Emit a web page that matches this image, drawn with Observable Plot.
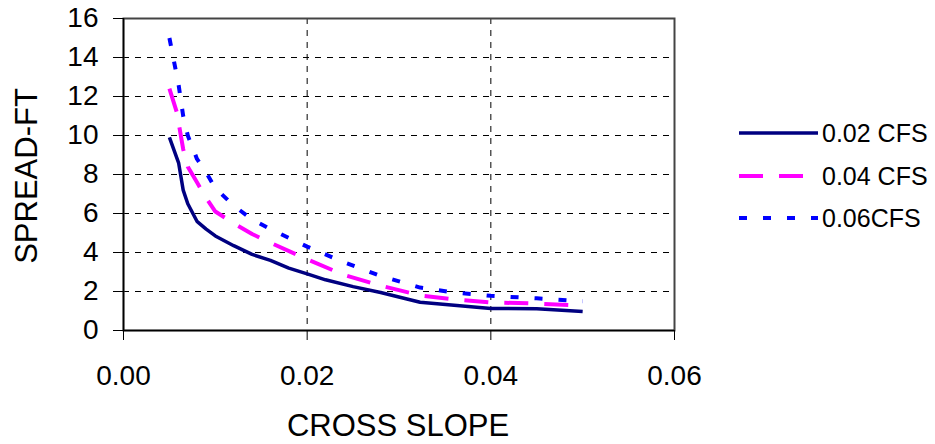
<!DOCTYPE html>
<html>
<head>
<meta charset="utf-8">
<script src="https://cdn.jsdelivr.net/npm/d3@7"></script>
<script src="https://cdn.jsdelivr.net/npm/@observablehq/plot@0.6"></script>
<style>
  html, body { margin: 0; padding: 0; background: #fff; }
  svg { display: block; }
</style>
</head>
<body>
<div id="chart"></div>
<script>
// ---- data ----
const seriesNames = ["0.02 CFS", "0.04 CFS", "0.06CFS"];

const slope002 = [0.005, 0.006, 0.0065, 0.007, 0.008, 0.009, 0.010, 0.012, 0.014, 0.016, 0.018, 0.020, 0.022, 0.025, 0.028, 0.0323, 0.036, 0.040, 0.045, 0.050];
const spread002 = [9.9, 8.6, 7.2, 6.5, 5.6, 5.2, 4.85, 4.35, 3.9, 3.6, 3.2, 2.9, 2.6, 2.25, 1.95, 1.45, 1.3, 1.13, 1.12, 0.97];

const slope004 = [0.005, 0.0058, 0.0065, 0.007, 0.008, 0.009, 0.010, 0.012, 0.014, 0.016, 0.020, 0.024, 0.028, 0.0323, 0.036, 0.040, 0.045, 0.050];
const spread004 = [12.4, 11.2, 9.3, 8.4, 7.6, 6.8, 6.1, 5.5, 4.95, 4.5, 3.65, 2.85, 2.3, 1.8, 1.6, 1.44, 1.38, 1.28];

const slope006 = [0.005, 0.0055, 0.006, 0.0065, 0.007, 0.008, 0.009, 0.010, 0.012, 0.014, 0.016, 0.020, 0.024, 0.028, 0.0323, 0.036, 0.040, 0.045, 0.050];
const spread006 = [15.0, 13.8, 12.6, 11.0, 10.0, 8.8, 8.1, 7.3, 6.4, 5.7, 5.2, 4.3, 3.5, 2.8, 2.2, 1.95, 1.78, 1.65, 1.5];

const xTicks = [0, 0.02, 0.04, 0.06];
const yTicks = [0, 2, 4, 6, 8, 10, 12, 14, 16];
const xTitle = "CROSS SLOPE";
const yTitle = "SPREAD-FT";

// ---- styles ----
const styles = [
  {stroke: "#000080", strokeWidth: 3.5, dash: null},
  {stroke: "#FF00FF", strokeWidth: 4, dash: "24,16"},
  {stroke: "#0000FF", strokeWidth: 4, dash: "8,16"}
];

const toRows = (xs, ys, name) => xs.map((x, i) => ({x, y: ys[i], series: name}));
const rows = [
  toRows(slope002, spread002, seriesNames[0]),
  toRows(slope004, spread004, seriesNames[1]),
  toRows(slope006, spread006, seriesNames[2])
];

const font = "'Liberation Sans', Arial, sans-serif";

const chart = Plot.plot({
  width: 935,
  height: 444,
  marginLeft: 123,
  marginRight: 261,
  marginTop: 18,
  marginBottom: 114,
  style: {fontFamily: font, fontSize: "27px", background: "#fff", color: "#000", overflow: "visible"},
  x: {domain: [0, 0.06], label: null},
  y: {domain: [0, 16], label: null},
  marks: [
    Plot.gridX(xTicks.filter(d => d > 0 && d < 0.06), {stroke: "#000", strokeOpacity: 1, strokeWidth: 1, strokeDasharray: "6,6"}),
    Plot.gridY(yTicks.filter(d => d > 0 && d < 16), {stroke: "#000", strokeOpacity: 1, strokeWidth: 1, strokeDasharray: "6,6"}),
    Plot.frame({stroke: "#444", strokeWidth: 2}),
    Plot.ruleX([0], {stroke: "#000", strokeWidth: 1.5}),
    Plot.ruleY([0], {stroke: "#000", strokeWidth: 1.5}),
    Plot.axisX({ticks: xTicks, tickFormat: d3.format(".2f"), tickSize: 10, tickPadding: 25, fontSize: 28, label: null}),
    Plot.axisY({ticks: yTicks, tickFormat: d3.format("d"), tickSize: 10, tickPadding: 15, fontSize: 28, label: null}),
    ...rows.map((r, i) => Plot.line(r, {
      x: "x", y: "y",
      stroke: styles[i].stroke,
      strokeWidth: styles[i].strokeWidth,
      strokeDasharray: styles[i].dash,
      strokeLinecap: "butt",
      strokeLinejoin: "round"
    }))
  ]
});

document.getElementById("chart").appendChild(chart);

// ---- axis titles and legend (added to the plot svg) ----
const svg = d3.select(chart);
svg.append("text")
  .attr("x", 398).attr("y", 436)
  .attr("text-anchor", "middle")
  .style("font-family", font).style("font-size", "31px").attr("fill", "#000")
  .text(xTitle);
svg.append("text")
  .attr("transform", "translate(37,176) rotate(-90)")
  .attr("text-anchor", "middle")
  .style("font-family", font).style("font-size", "31px").attr("fill", "#000")
  .text(yTitle);

const legendY = [133, 176, 218];
const lg = svg.append("g");
seriesNames.forEach((name, i) => {
  lg.append("line")
    .attr("x1", 739).attr("x2", 818)
    .attr("y1", legendY[i]).attr("y2", legendY[i])
    .attr("stroke", styles[i].stroke)
    .attr("stroke-width", styles[i].strokeWidth)
    .attr("stroke-dasharray", styles[i].dash);
  lg.append("text")
    .attr("x", 822).attr("y", legendY[i])
    .attr("dy", "0.36em")
    .attr("text-anchor", "start")
    .style("font-family", font).style("font-size", "25px").attr("fill", "#000")
    .text(name);
});
</script>
</body>
</html>
